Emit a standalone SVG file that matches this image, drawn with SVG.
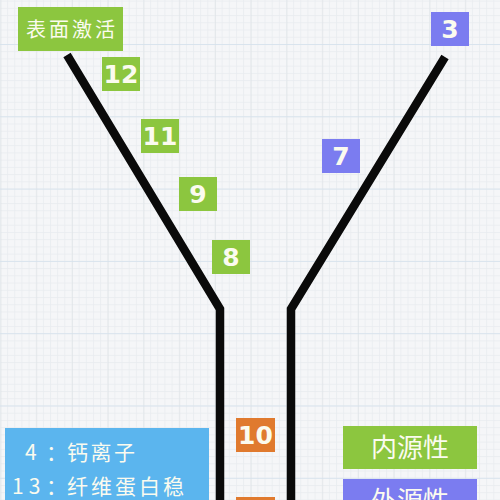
<svg xmlns="http://www.w3.org/2000/svg" width="500" height="500" viewBox="0 0 500 500">
<style>
.g{fill:#8cc63f}.p{fill:#7b7cf0}.o{fill:#e07a2e}.b{fill:#5bb5ee}
.num{font-family:"DejaVu Sans","Liberation Sans",sans-serif;font-weight:bold;font-size:25px;fill:#fbfbef;text-anchor:middle}
.cjk{font-family:"Noto Sans CJK SC","Noto Sans",sans-serif;fill:#fbfbef}
.funnel{fill:none;stroke:#0a0a0a;stroke-width:8.5;stroke-linejoin:miter}
</style>
<defs>
<pattern id="minor" patternUnits="userSpaceOnUse" width="7.15" height="7.23" x="0" y="0.6">
<path d="M0 0.5H7.15M0.5 0V7.23" stroke="#e8ecef" stroke-width="0.8" fill="none"/>
</pattern>
<pattern id="majorV" patternUnits="userSpaceOnUse" width="35.75" height="500" x="0.5" y="0">
<path d="M0 0V500" stroke="#dde2e6" stroke-width="1.2" fill="none"/>
</pattern>
<pattern id="majorH" patternUnits="userSpaceOnUse" width="500" height="72.3" x="0" y="44">
<path d="M0 0H500" stroke="#d3e0ec" stroke-width="1.5" fill="none"/>
</pattern>
</defs>
<rect width="500" height="500" fill="#f5f6f8"/>
<rect width="500" height="500" fill="url(#minor)"/>
<rect width="500" height="500" fill="url(#majorV)"/>
<rect width="500" height="500" fill="url(#majorH)"/>

<g id="connectors">
<path class="funnel" d="M67 55 L220 309 L220 500"/>
<path class="funnel" d="M445 57 L291 309 L291 500"/>
</g>

<g id="n-surface"><rect class="g" x="18" y="7" width="105" height="44"/><text class="cjk" x="72" y="37" font-size="20" letter-spacing="3" text-anchor="middle">表面激活</text></g>
<g id="n12"><rect class="g" x="102" y="57" width="38" height="34"/><text class="num" x="121" y="83">12</text></g>
<g id="n11"><rect class="g" x="141" y="119" width="38" height="34"/><text class="num" x="160" y="145">11</text></g>
<g id="n9"><rect class="g" x="179" y="177" width="38" height="34"/><text class="num" x="198" y="203">9</text></g>
<g id="n8"><rect class="g" x="212" y="240" width="38" height="34"/><text class="num" x="231" y="266">8</text></g>
<g id="n3"><rect class="p" x="431" y="12" width="38" height="34"/><text class="num" x="450" y="38">3</text></g>
<g id="n7"><rect class="p" x="322" y="139" width="38" height="34"/><text class="num" x="341" y="165">7</text></g>
<g id="n10"><rect class="o" x="236" y="418" width="39" height="34"/><text class="num" x="255.5" y="444">10</text></g>
<g id="n-bottom"><rect class="o" x="236" y="497" width="39" height="34"/></g>
<g id="legend-blue"><rect class="b" x="5" y="428" width="204" height="80"/>
<text class="cjk" y="460" font-size="21"><tspan x="25">4</tspan><tspan x="46">：</tspan><tspan x="67" letter-spacing="2.5">钙离子</tspan></text>
<text class="cjk" y="494" font-size="21"><tspan x="12" letter-spacing="5">13</tspan><tspan x="46">：</tspan><tspan x="67" letter-spacing="3">纤维蛋白稳</tspan></text></g>
<g id="legend-intrinsic"><rect class="g" x="343" y="426" width="134" height="43"/><text class="cjk" x="410" y="457" font-size="26" text-anchor="middle">内源性</text></g>
<g id="legend-extrinsic"><rect class="p" x="343" y="479" width="134" height="43"/><text class="cjk" x="410" y="510" font-size="26" text-anchor="middle">外源性</text></g>
</svg>
